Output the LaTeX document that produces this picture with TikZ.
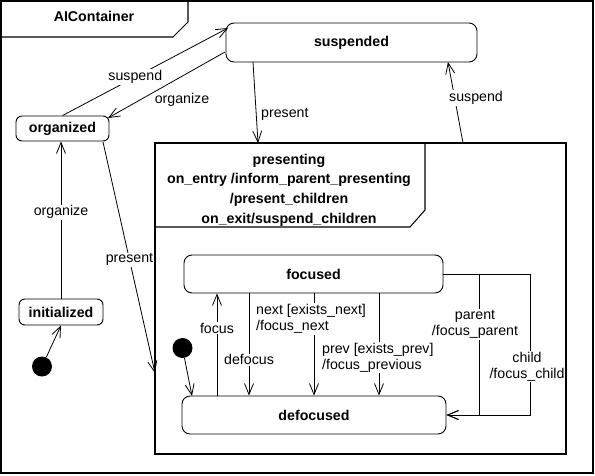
\documentclass[tikz,border=0pt]{standalone}
\usepackage{fontspec}
\setmainfont{Liberation Sans}
\usetikzlibrary{arrows.meta,calc}
\begin{document}
\begin{tikzpicture}[x=1pt,y=-1pt,
  every node/.style={font=\fontsize{14.2}{16}\selectfont, inner sep=1pt},
  frameline/.style={draw, line width=1.05pt},
  statebox/.style={draw, line width=0.9pt, rounded corners=8pt, font=\fontsize{14.2}{16}\selectfont\bfseries, inner sep=0pt},
  initdot/.style={circle, fill=black, minimum size=20pt, inner sep=0pt},
  trans/.style={draw, line width=0.8pt, -{Straight Barb[length=11pt,width=9pt,line width=0.8pt]}},
  lbl/.style={fill=white, inner sep=1pt},
]
\useasboundingbox (0,0) rectangle (595,475);
\fill[white] (0,0) rectangle (595,475);
% outer frame
\draw[frameline] (1,1) rectangle (593,473);
\draw[frameline] (1,37) -- (173,37) -- (188,22) -- (188,1);
\node[font=\fontsize{14.2}{16}\selectfont\bfseries] (title) at (94,16) {AIContainer};

% states outside
\node[statebox, minimum width=251pt, minimum height=39pt] (suspended) at (351.5,42.5) {suspended};
\node[statebox, minimum width=93pt, minimum height=25pt, rounded corners=6pt] (organized) at (62.5,128.5) {organized};
\node[statebox, minimum width=84pt, minimum height=26pt, rounded corners=6pt] (initialized) at (61,312) {initialized};
\node[initdot] (dot1) at (42,366.5) {};

% presenting composite
\draw[frameline] (155,143) rectangle (566,454);
\draw[frameline] (155,227) -- (410,227) -- (425,210) -- (425,143);
\node[align=center, font=\fontsize{14.2}{19.7}\selectfont\bfseries] (presenting) at (289,190)
  {presenting\\on\_entry /inform\_parent\_presenting\\/present\_children\\on\_exit/suspend\_children};

\node[statebox, minimum width=259pt, minimum height=38pt] (focused) at (313.5,274) {focused};
\node[statebox, minimum width=264pt, minimum height=38pt] (defocused) at (314,415) {defocused};
\node[initdot] (dot2) at (182.5,348) {};

% named coordinates
\coordinate (susTL) at (228,28);
\coordinate (susL) at (225,52);
\coordinate (orgR) at (108,118);
\coordinate (orgB) at (103,142);
\coordinate (presL) at (155,373);
\coordinate (susB) at (253,62);
\coordinate (presT) at (258,143);
\coordinate (presTR) at (463,143);
\coordinate (susBR) at (448,62);
\coordinate (foc1) at (217,0);
\coordinate (foc2) at (249,0);
\coordinate (foc3) at (314,0);
\coordinate (foc4) at (379,0);
\coordinate (pc) at (479,0);
\coordinate (cc) at (530,0);
\coordinate (dfTL) at (192,396);

% transitions outside
\draw[trans] (dot1) -- (initialized.south);
\draw[trans] (initialized.north) -- (initialized.north |- organized.south)
  node[lbl, pos=0.55] (lorg1) {organize};
\draw[trans] (organized.north) -- (susTL) node[lbl, pos=0.44] (lsus1) {suspend};
\draw[trans] (susL) -- (orgR);
\node (lorg2) at (182,100) {organize};
\draw[trans] (orgB) -- (presL) node[lbl, pos=0.51] (lpres1) {present};
\draw[trans] (susB) -- (presT);
\node[anchor=west] (lpres2) at (260,114) {present};
\draw[trans] (presTR) -- (susBR);
\node[lbl] (lsus2) at (476,98) {suspend};

% transitions inside presenting
\draw[trans] (dot2) -- (dfTL);
\draw[trans] (defocused.north -| foc1) -- (focused.south -| foc1)
  node[lbl, pos=0.66] (lfocus) {focus};
\draw[trans] (focused.south -| foc2) -- (defocused.north -| foc2)
  node[lbl, pos=0.65] (ldefocus) {defocus};
\draw[trans] (focused.south -| foc3) -- (defocused.north -| foc3);
\node[lbl, anchor=west, align=left] (lnext) at (255,319) {next [exists\_next]\\/focus\_next};
\draw[trans] (focused.south -| foc4) -- (defocused.north -| foc4);
\node[lbl, anchor=west, align=left] (lprev) at (321,357.5) {prev [exists\_prev]\\/focus\_previous};
\draw[trans] (focused.east) -- (focused.east -| cc) -- (cc |- defocused.east) -- (defocused.east);
\draw[trans] (focused.east -| pc) -- (pc |- defocused.east) -- (defocused.east);
\node[lbl, align=center] (lparent) at (475,324.5) {parent\\/focus\_parent};
\node[lbl, align=center] (lchild) at (527,366.5) {child\\/focus\_child};
\end{tikzpicture}
\end{document}
